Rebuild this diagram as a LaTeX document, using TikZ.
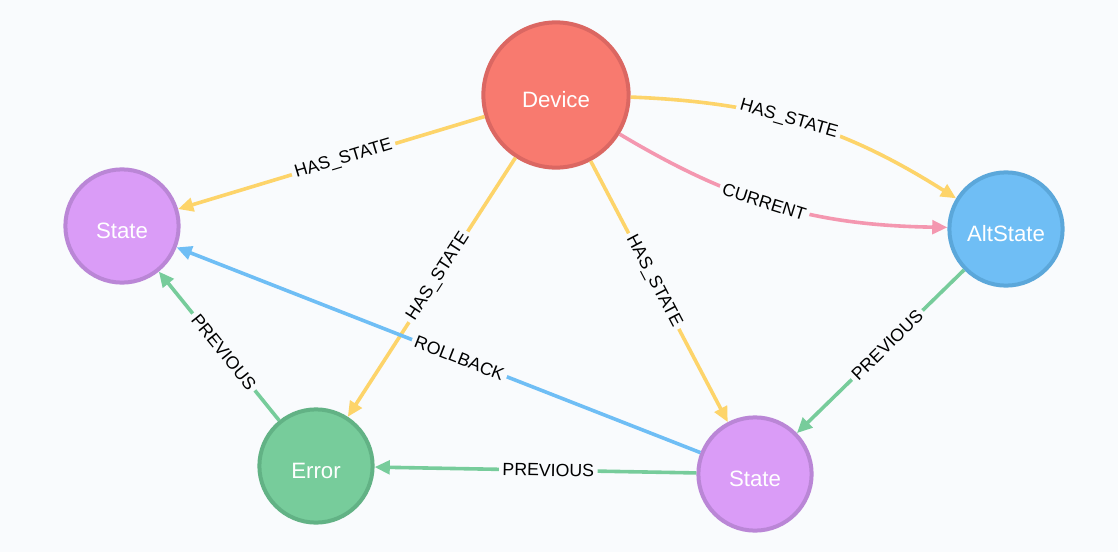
\documentclass[tikz,border=0pt]{standalone}
\usepackage{fontspec}
\setmainfont{Liberation Sans}
\usetikzlibrary{arrows.meta}

\definecolor{bgcol}{HTML}{F9FBFD}
\definecolor{devfill}{HTML}{F87A6F}
\definecolor{devdraw}{HTML}{DB6762}
\definecolor{statefill}{HTML}{DA9CF7}
\definecolor{statedraw}{HTML}{BA86D6}
\definecolor{altfill}{HTML}{6FBEF5}
\definecolor{altdraw}{HTML}{5BA7DA}
\definecolor{errfill}{HTML}{77CC9B}
\definecolor{errdraw}{HTML}{62B285}
\definecolor{yellowedge}{HTML}{FDD46A}
\definecolor{pinkedge}{HTML}{F497B0}
\definecolor{greenedge}{HTML}{77CC9B}
\definecolor{blueedge}{HTML}{6FBEF5}

\begin{document}
\begin{tikzpicture}[x=0.025cm, y=-0.025cm]
		% Styles
		\tikzset{
			entity/.style={circle, line width=0.1cm, minimum size=2.83cm, inner sep=0pt, text height=0.6cm, text depth=0cm, text=white, font=\fontsize{15.8}{18}\selectfont},
			rel/.style={line width=0.09cm, -{Triangle[length=0.38cm, width=0.34cm]}},
			rellabel/.style={pos=0.46, sloped, fill=bgcol, inner sep=2.5pt, text=black, font=\fontsize{12.6}{14}\selectfont}
		}
		
		% Background
		\fill[bgcol] (0, 0) rectangle (1118, 552);
		
		% Device (top centre)
		\node[entity, fill=devfill, draw=devdraw, minimum size=3.63cm] (Device) at (556, 95) {Device};
		
		% State (left)
		\node[entity, fill=statefill, draw=statedraw] (StateLeft) at (122, 226) {State};
		
		% AltState (right)
		\node[entity, fill=altfill, draw=altdraw] (AltState) at (1006, 229) {AltState};
		
		% Error (bottom left)
		\node[entity, fill=errfill, draw=errdraw] (Error) at (316, 466) {Error};
		
		% State (bottom right)
		\node[entity, fill=statefill, draw=statedraw] (StateRight) at (755, 474) {State};
		
		% HAS_STATE edges from Device
		\draw[rel, yellowedge] (Device) -- (StateLeft) node[rellabel] {HAS\_STATE};
		\draw[rel, yellowedge] (Device) -- (Error) node[rellabel] {HAS\_STATE};
		\draw[rel, yellowedge] (Device) -- (StateRight) node[rellabel] {HAS\_STATE};
		\draw[rel, yellowedge] (Device) to[bend left=15] node[rellabel] {HAS\_STATE} (AltState);
		
		% CURRENT edge
		\draw[rel, pinkedge] (Device) to[bend right=15] node[rellabel] {CURRENT} (AltState);
		
		% ROLLBACK edge
		\draw[rel, blueedge] (StateRight) -- (StateLeft) node[rellabel] {ROLLBACK};
		
		% PREVIOUS edges
		\draw[rel, greenedge] (AltState) -- (StateRight) node[rellabel] {PREVIOUS};
		\draw[rel, greenedge] (StateRight) -- (Error) node[rellabel] {PREVIOUS};
		\draw[rel, greenedge] (Error) -- (StateLeft) node[rellabel] {PREVIOUS};
		
	\end{tikzpicture}
\end{document}
